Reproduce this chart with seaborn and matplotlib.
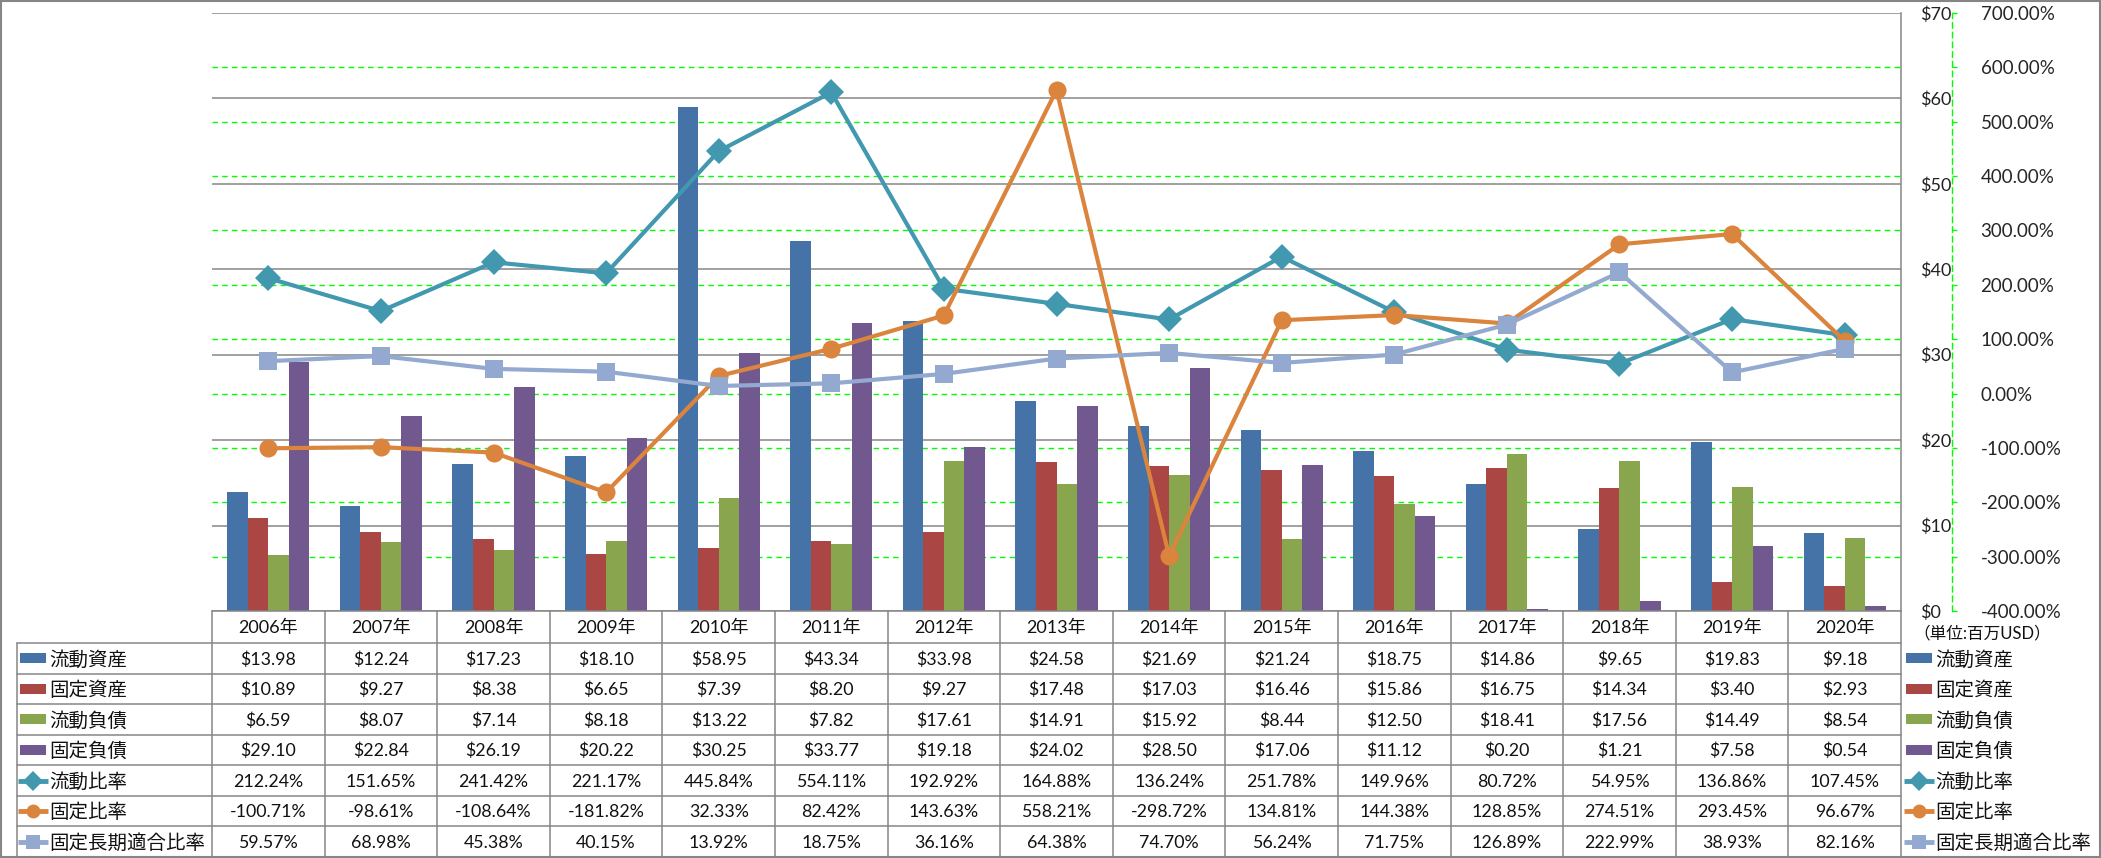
import numpy as np
import pandas as pd
import seaborn as sns
import matplotlib.pyplot as plt
from matplotlib.patches import Rectangle
from matplotlib.ticker import FuncFormatter

years = ['2006年', '2007年', '2008年', '2009年', '2010年', '2011年', '2012年', '2013年',
         '2014年', '2015年', '2016年', '2017年', '2018年', '2019年', '2020年']
bar_names = ['流動資産', '固定資産', '流動負債', '固定負債']
current_assets = [13.98, 12.24, 17.23, 18.10, 58.95, 43.34, 33.98, 24.58, 21.69, 21.24, 18.75, 14.86, 9.65, 19.83, 9.18]
fixed_assets = [10.89, 9.27, 8.38, 6.65, 7.39, 8.20, 9.27, 17.48, 17.03, 16.46, 15.86, 16.75, 14.34, 3.40, 2.93]
current_liab = [6.59, 8.07, 7.14, 8.18, 13.22, 7.82, 17.61, 14.91, 15.92, 8.44, 12.50, 18.41, 17.56, 14.49, 8.54]
fixed_liab = [29.10, 22.84, 26.19, 20.22, 30.25, 33.77, 19.18, 24.02, 28.50, 17.06, 11.12, 0.20, 1.21, 7.58, 0.54]
line_names = ['流動比率', '固定比率', '固定長期適合比率']
current_ratio = [212.24, 151.65, 241.42, 221.17, 445.84, 554.11, 192.92, 164.88, 136.24, 251.78, 149.96, 80.72, 54.95, 136.86, 107.45]
fixed_ratio = [-100.71, -98.61, -108.64, -181.82, 32.33, 82.42, 143.63, 558.21, -298.72, 134.81, 144.38, 128.85, 274.51, 293.45, 96.67]
fixed_lt_ratio = [59.57, 68.98, 45.38, 40.15, 13.92, 18.75, 36.16, 64.38, 74.70, 56.24, 71.75, 126.89, 222.99, 38.93, 82.16]

bar_colors = ['#4572A7', '#AA4643', '#89A54E', '#71588F']
line_colors = ['#4198AF', '#DB843D', '#93A9CF']
line_markers = ['D', 'o', 's']
marker_sizes = [13, 13, 13]

sns.set_theme(style='white')
plt.rcParams['font.family'] = ['Lato', 'Noto Sans CJK JP', 'DejaVu Sans']
GRAY = '#868686'

W, H = 2101, 858
fig = plt.figure(figsize=(W / 100, H / 100), dpi=100)

# plot area in pixels
left_px, right_px, top_px, bottom_px = 212, 1901, 13, 611
rect = [left_px / W, 1 - bottom_px / H, (right_px - left_px) / W, (bottom_px - top_px) / H]

# green dashed grid for the percent scale (drawn below the bars)
ax_grid = fig.add_axes(rect)
ax_grid.set_ylim(-400, 700)
ax_grid.set_xlim(-0.5, 14.5)
ax_grid.set_yticks(range(-300, 601, 100))
ax_grid.set_xticks([])
ax_grid.yaxis.grid(True, color='#00FF00', linestyle=(0, (4, 3)), linewidth=1.0)
ax_grid.tick_params(left=False, labelleft=False)
for s in ax_grid.spines.values():
    s.set_visible(False)

# bars on the $ scale
ax_bar = fig.add_axes(rect)
ax_bar.patch.set_alpha(0)
df_bar = pd.DataFrame({'year': years, '流動資産': current_assets, '固定資産': fixed_assets,
                       '流動負債': current_liab, '固定負債': fixed_liab})
df_bar = df_bar.melt(id_vars='year', var_name='item', value_name='value')
sns.barplot(data=df_bar, x='year', y='value', hue='item', hue_order=bar_names, order=years,
            palette=bar_colors, width=0.73, saturation=1, linewidth=0, errorbar=None,
            legend=False, ax=ax_bar)

# ratio lines on the percent scale
ax_line = ax_bar.twinx()

ax_bar.set_xlim(-0.5, 14.5)
ax_bar.set_ylim(0, 70)
ax_bar.set_yticks(range(0, 71, 10))
ax_bar.yaxis.grid(True, color=GRAY, linewidth=1.1)
ax_bar.set_axisbelow(True)
ax_bar.yaxis.tick_right()
ax_bar.yaxis.set_major_formatter(FuncFormatter(lambda v, p: f'${v:.0f}'))
ax_bar.tick_params(axis='y', left=False, labelleft=False, right=True, labelright=True,
                   length=0, pad=13.5, labelsize=13, colors='#222222')
ax_bar.tick_params(axis='x', bottom=False, labelbottom=False)
ax_bar.set_xlabel('')
ax_bar.set_ylabel('')
for k in ['left', 'top', 'bottom']:
    ax_bar.spines[k].set_visible(False)
ax_bar.spines['right'].set_color(GRAY)
ax_bar.spines['right'].set_linewidth(1.1)

ax_line.set_ylim(-400, 700)
x_pos = np.arange(len(years))
for vals, c, m, ms in zip([current_ratio, fixed_ratio, fixed_lt_ratio], line_colors, line_markers, marker_sizes):
    sns.lineplot(x=x_pos, y=vals, ax=ax_line, color=c, marker=m, markersize=ms, linewidth=3,
                 markeredgewidth=0, markeredgecolor=c, legend=False)
ax_line.set_xlim(-0.5, 14.5)
ax_line.set_yticks(range(-400, 701, 100))
ax_line.yaxis.set_major_formatter(FuncFormatter(lambda v, p: f'{v:.2f}%'))
ax_line.tick_params(axis='y', direction='out', length=3.6, width=1, color='#00FF00',
                    pad=17, labelsize=13.5)
for lbl, v in zip(ax_line.get_yticklabels(), range(-400, 701, 100)):
    lbl.set_color('#FF0000' if v < 0 else '#222222')
for k in ['left', 'top', 'bottom']:
    ax_line.spines[k].set_visible(False)
ax_line.spines['right'].set_position(('outward', 36.7))
ax_line.spines['right'].set_color('#00FF00')
ax_line.spines['right'].set_linestyle((0, (4, 3)))
ax_line.spines['right'].set_linewidth(1.0)
ax_line.set_ylabel('')

# data table and legends drawn in pixel coordinates
ax_t = fig.add_axes([0, 0, 1, 1])
ax_t.set_xlim(0, W)
ax_t.set_ylim(H, 0)
ax_t.axis('off')
ax_t.patch.set_alpha(0)

n = len(years)
cat_w = (right_px - left_px) / n
head_bot = 643
row_h = (857 - head_bot) / 7
row_edges = [head_bot + i * row_h for i in range(8)]
lw_t = 1.1

# table grid
ax_t.plot([left_px, right_px], [bottom_px, bottom_px], color=GRAY, lw=lw_t)
for y in row_edges[:-1]:
    ax_t.plot([17, right_px], [y, y], color=GRAY, lw=lw_t)
for i in range(n + 1):
    ax_t.plot([left_px + i * cat_w] * 2, [bottom_px, 856], color=GRAY, lw=lw_t)
ax_t.plot([17, 17], [head_bot, 856], color=GRAY, lw=lw_t)

# header
for i, yr in enumerate(years):
    ax_t.text(left_px + (i + 0.5) * cat_w, (bottom_px + head_bot) / 2 + 1, yr,
              ha='center', va='center', fontsize=13, color='#111111')

rows = [(bar_names[0], current_assets, 'bar', bar_colors[0], None),
        (bar_names[1], fixed_assets, 'bar', bar_colors[1], None),
        (bar_names[2], current_liab, 'bar', bar_colors[2], None),
        (bar_names[3], fixed_liab, 'bar', bar_colors[3], None),
        (line_names[0], current_ratio, 'line', line_colors[0], line_markers[0]),
        (line_names[1], fixed_ratio, 'line', line_colors[1], line_markers[1]),
        (line_names[2], fixed_lt_ratio, 'line', line_colors[2], line_markers[2])]


def legend_key(x0, yc, kind, color, marker):
    if kind == 'bar':
        ax_t.add_patch(Rectangle((x0, yc - 5), 26, 10, color=color, lw=0))
    else:
        ax_t.plot([x0 - 2, x0 + 28], [yc, yc], color=color, lw=3.5, solid_capstyle='butt')
        ax_t.plot([x0 + 13], [yc], color=color, marker=marker, markersize=10, markeredgewidth=0)


for r, (name, vals, kind, color, marker) in enumerate(rows):
    yc = (row_edges[r] + row_edges[r + 1]) / 2
    legend_key(20, yc, kind, color, marker)
    ax_t.text(49, yc + 1, name, ha='left', va='center', fontsize=14, color='#111111')
    legend_key(1906, yc, kind, color, marker)
    ax_t.text(1935, yc + 1, name, ha='left', va='center', fontsize=14, color='#111111')
    for i, v in enumerate(vals):
        s = f'${v:.2f}' if kind == 'bar' else f'{v:.2f}%'
        ax_t.text(left_px + (i + 0.5) * cat_w, yc + 1, s, ha='center', va='center',
                  fontsize=12.8, color='#111111')

ax_t.text(1913, 633, '（単位:百万USD）', ha='left', va='center', fontsize=12, color='#111111')

# outer frame
ax_t.add_patch(Rectangle((1, 1), W - 2, H - 2, fill=False, edgecolor=GRAY, lw=1.5))

fig.savefig('out.png', dpi=100)
